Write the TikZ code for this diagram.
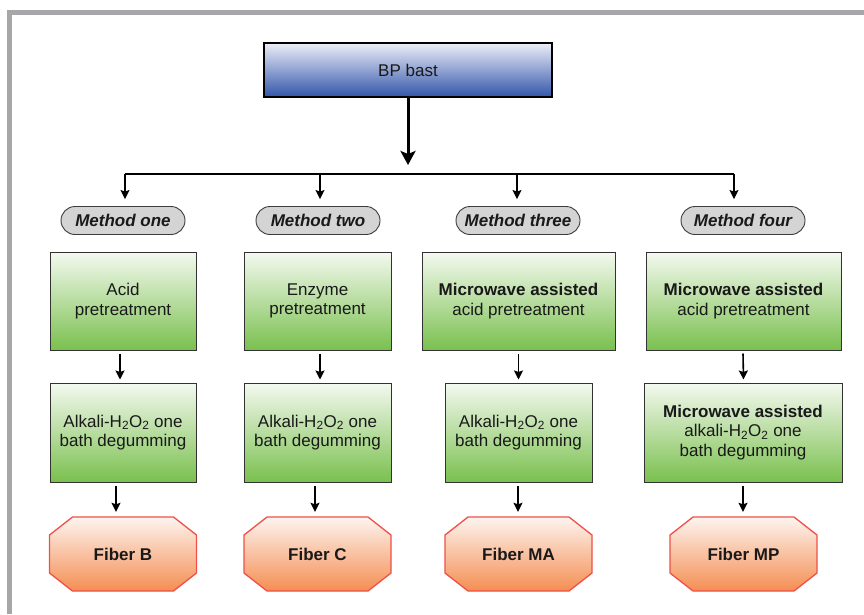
\documentclass[tikz,border=0pt]{standalone}
\usepackage{fontspec}
\setmainfont{Liberation Sans}
\usetikzlibrary{arrows.meta,calc,shapes.misc}
\definecolor{framegray}{RGB}{167,167,169}
\definecolor{bluetop}{RGB}{236,238,247}
\definecolor{bluebot}{RGB}{50,86,170}
\definecolor{greentop}{RGB}{244,249,240}
\definecolor{greenbot}{RGB}{122,192,78}
\definecolor{greenline}{RGB}{50,50,50}
\definecolor{orangetop}{RGB}{253,244,240}
\definecolor{orangebot}{RGB}{244,142,82}
\definecolor{orangeline}{RGB}{240,80,72}
\definecolor{pillfill}{RGB}{212,212,212}
\definecolor{pillline}{RGB}{60,60,60}
\newcommand\octshape[1]{%
  \path[fibshape] ($(#1)+(-50.5,-37)$) -- ($(#1)+(50.5,-37)$) -- ($(#1)+(73.5,-19)$)
    -- ($(#1)+(73.5,19)$) -- ($(#1)+(50.5,37)$) -- ($(#1)+(-50.5,37)$)
    -- ($(#1)+(-73.5,19)$) -- ($(#1)+(-73.5,-19)$) -- cycle;}
\begin{document}
\begin{tikzpicture}[x=1pt,y=-1pt,
  txt/.style={font=\fontsize{17}{19.5}\selectfont, align=center, text=black!90},
  topbox/.style={txt, draw=black, line width=1.8pt, top color=bluetop, bottom color=bluebot,
    minimum width=288pt, minimum height=54pt, inner sep=0pt},
  pill/.style={txt, font=\fontsize{17}{19.5}\selectfont\bfseries\itshape, draw=pillline, line width=0.9pt,
    fill=pillfill, rounded rectangle, minimum width=124pt, minimum height=28pt, inner sep=0pt},
  gbox/.style={txt, draw=greenline, line width=1pt, top color=greentop, bottom color=greenbot,
    minimum height=98pt, inner sep=0pt},
  fibshape/.style={draw=orangeline, line width=1.3pt, top color=orangetop, bottom color=orangebot},
  fibtext/.style={txt, font=\fontsize{17}{19.5}\selectfont\bfseries, minimum width=147pt,
    minimum height=74pt, inner sep=0pt},
  arr/.style={line width=1.6pt, -{Stealth[length=9pt,width=9pt,inset=1.5pt]}},
  bigarr/.style={line width=3pt, -{Stealth[length=14pt,width=15pt,inset=3pt]}}
]
\useasboundingbox (0,0) rectangle (864,614);
\fill[white] (0,0) rectangle (864,614);
% frame
\fill[framegray] (7,10) rectangle (864,15);
\fill[framegray] (7,10) rectangle (12,614);

% top box
\node[topbox] (bp) at (408,70) {BP bast};

% branch line
\coordinate (h0) at (408,174);
\coordinate (h1) at (125,174);
\coordinate (h2) at (320,174);
\coordinate (h3) at (517,174);
\coordinate (h4) at (734,174);
\draw[line width=1.4pt] (h1) -- (h4);
\draw[bigarr] (bp.south) -- ($(h0)+(0,-9)$);

% methods
\node[pill] (m1) at (123,220.5) {Method one};
\node[pill] (m2) at (318,220.5) {Method two};
\node[pill] (m3) at (518,220.5) {Method three};
\node[pill] (m4) at (743,220.5) {Method four};
\foreach \i in {1,2,3,4}{
  \draw[arr] (h\i) -- ($(h\i |- m\i.north)+(0,-7)$);
}

% row 1
\node[gbox, minimum width=146pt] (a1) at (123,301) {Acid\\pretreatment};
\node[gbox, minimum width=147pt] (a2) at (317.5,301) {Enzyme\\pretreatment};
\node[gbox, minimum width=193pt] (a3) at (518.5,301) {\textbf{Microwave assisted}\\acid pretreatment};
\node[gbox, minimum width=195pt] (a4) at (743.5,301) {\textbf{Microwave assisted}\\acid pretreatment};

% row 2
\node[gbox, minimum width=146pt, minimum height=99pt] (b1) at (123,432.5) {Alkali-H\textsubscript{2}O\textsubscript{2} one\\bath degumming};
\node[gbox, minimum width=147pt, minimum height=99pt] (b2) at (317.5,432.5) {Alkali-H\textsubscript{2}O\textsubscript{2} one\\bath degumming};
\node[gbox, minimum width=147pt, minimum height=99pt] (b3) at (518.5,432.5) {Alkali-H\textsubscript{2}O\textsubscript{2} one\\bath degumming};
\node[gbox, minimum width=198pt, minimum height=99pt] (b4) at (743,432.5) {\textbf{Microwave assisted}\\alkali-H\textsubscript{2}O\textsubscript{2} one\\bath degumming};

% fibers
\coordinate (fc1) at (123,554);
\coordinate (fc2) at (317.5,554);
\coordinate (fc3) at (518.5,554);
\coordinate (fc4) at (743.5,554);
\octshape{fc1}
\octshape{fc2}
\octshape{fc3}
\octshape{fc4}
\node[fibtext] (f1) at (fc1) {Fiber B};
\node[fibtext] (f2) at (fc2) {Fiber C};
\node[fibtext] (f3) at (fc3) {Fiber MA};
\node[fibtext] (f4) at (fc4) {Fiber MP};

% arrows row1 -> row2
\draw[arr] ($(a1.south)+(-3,3)$) -- ($(b1.north)+(-3,-3)$);
\draw[arr] ($(a2.south)+(2.5,3)$) -- ($(b2.north)+(2.5,-3)$);
\draw[arr] ($(a3.south)+(0,3)$) -- ($(b3.north)+(0,-3)$);
\draw[arr] ($(a4.south)+(-0.5,3)$) -- ($(b4.north |- b4.north)+(0.5,-3)$);

% arrows row2 -> fibers
\draw[arr] ($(b1.south)+(-7,3)$) -- ($(f1.north)+(-7,-5)$);
\draw[arr] ($(b2.south)+(-2.5,3)$) -- ($(f2.north)+(-2.5,-5)$);
\draw[arr] ($(b3.south)+(-0.5,3)$) -- ($(f3.north)+(-0.5,-5)$);
\draw[arr] ($(b4.south)+(0,3)$) -- ($(f4.north)+(-0.5,-5)$);
\end{tikzpicture}
\end{document}
